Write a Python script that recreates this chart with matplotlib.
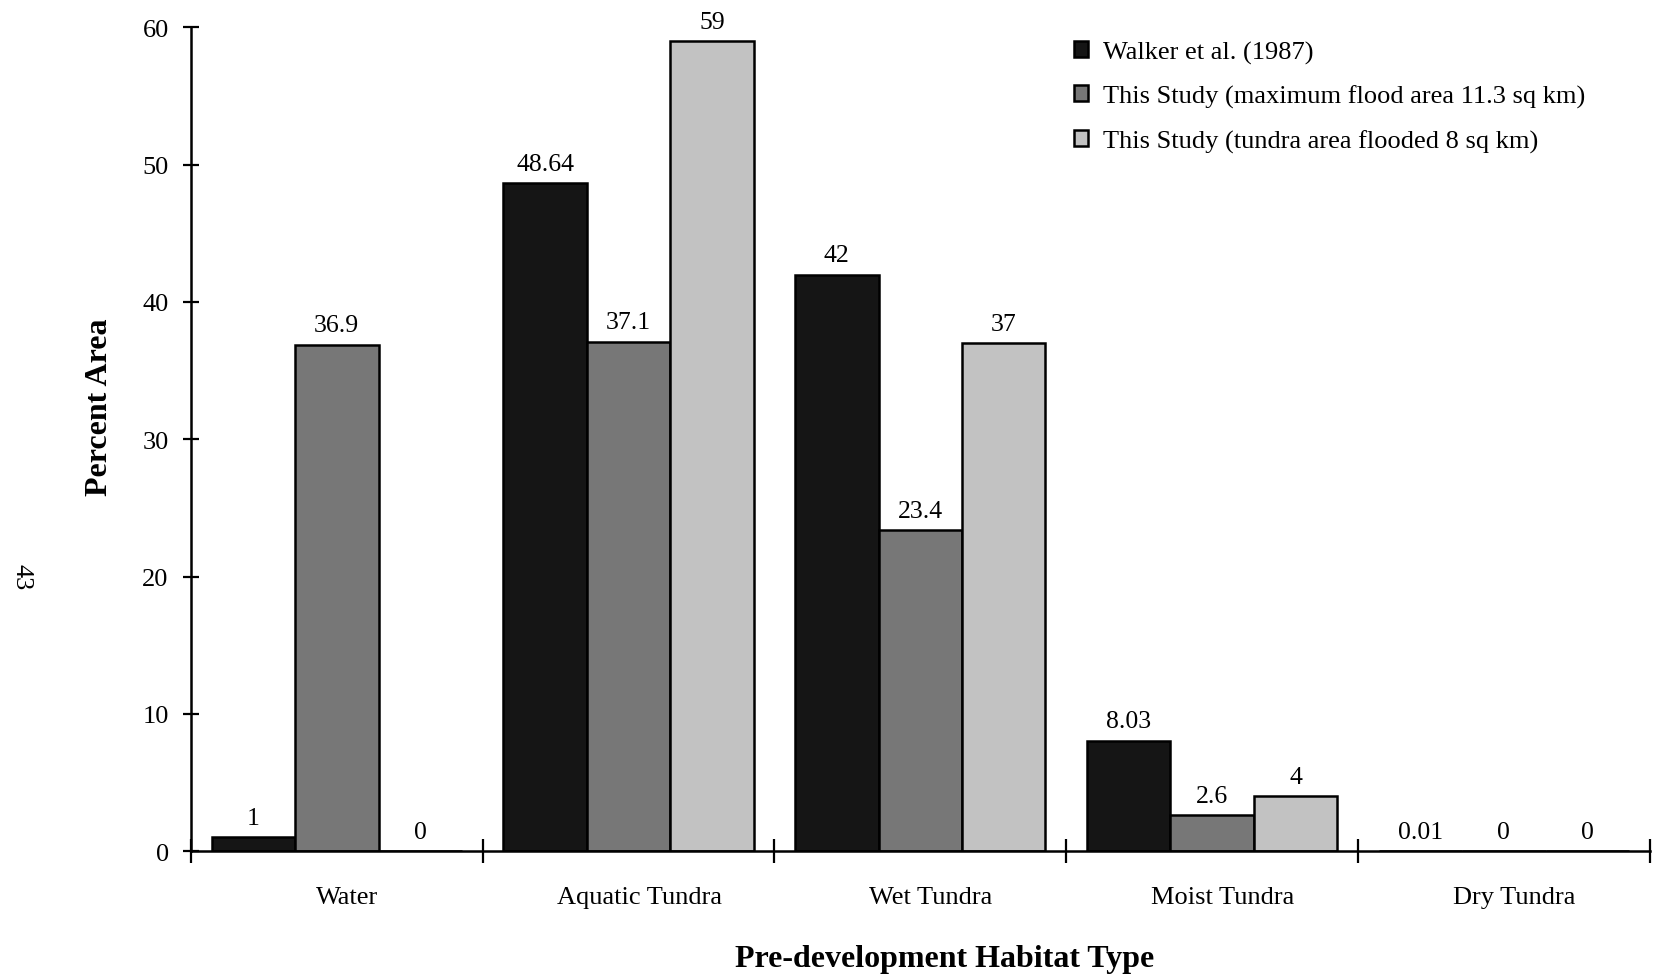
import matplotlib.pyplot as plt
import numpy as np

# habitat categories and percent area per source
habitats = ["Water", "Aquatic Tundra", "Wet Tundra", "Moist Tundra", "Dry Tundra"]
walker = [1, 48.64, 42, 8.03, 0.01]
max_flood = [36.9, 37.1, 23.4, 2.6, 0]
tundra_flooded = [0, 59, 37, 4, 0]

walker_labels = ["1", "48.64", "42", "8.03", "0.01"]
max_flood_labels = ["36.9", "37.1", "23.4", "2.6", "0"]
tundra_labels = ["0", "59", "37", "4", "0"]

series_names = ["Walker et al. (1987)",
                "This Study (maximum flood area 11.3 sq km)",
                "This Study (tundra area flooded 8 sq km)"]

plt.rcParams['font.family'] = ['Liberation Serif', 'DejaVu Serif']

fig = plt.figure(figsize=(16.53, 9.78), dpi=100)
ax = fig.add_axes([0.1155, 0.1288, 0.8825, 0.8421])

x = np.arange(len(habitats))
w = 0.286
colores = ['#151515', '#777777', '#c2c2c2']
datos = [walker, max_flood, tundra_flooded]
etiquetas = [walker_labels, max_flood_labels, tundra_labels]

for i, (vals, labs) in enumerate(zip(datos, etiquetas)):
    pos = x + (i - 1) * w
    ax.bar(pos, vals, width=w, color=colores[i], edgecolor='black',
           linewidth=1.8, label=series_names[i], zorder=2)
    for px, v, t in zip(pos, vals, labs):
        ax.annotate(t, (px, v), xytext=(0, 6), textcoords='offset points',
                    ha='center', va='bottom', fontsize=18.5)

ax.set_xlim(-0.5, 4.5)
ax.set_ylim(0, 60)
ax.set_yticks([0, 10, 20, 30, 40, 50, 60])
# las etiquetas de categoria estan un poco corridas a la derecha en el original
ax.set_xticks(x + 0.036)
ax.set_xticklabels(habitats)
ax.set_xticks(np.arange(-0.5, 5, 1), minor=True)

for lado in ['top', 'right']:
    ax.spines[lado].set_visible(False)
ax.spines['left'].set_linewidth(1.8)
ax.spines['bottom'].set_linewidth(1.8)

ax.tick_params(axis='y', direction='inout', length=12, width=1.6,
               labelsize=19, pad=10)
ax.tick_params(axis='x', which='major', length=0, labelsize=19, pad=25)
ax.tick_params(axis='x', which='minor', direction='inout', length=17, width=1.6)

ax.set_xlabel("Pre-development Habitat Type", fontsize=23, fontweight='bold')
ax.set_ylabel("Percent Area", fontsize=23, fontweight='bold')
ax.xaxis.set_label_coords(0.517, -0.130)
ax.yaxis.set_label_coords(-0.0624, 0.540)
ax.xaxis.label.set_va('center')
ax.yaxis.label.set_va('center')

leg = ax.legend(loc='upper left', bbox_to_anchor=(0.589, 1.013), frameon=False,
                fontsize=19, handlelength=0.55, handleheight=0.55,
                handletextpad=0.55, labelspacing=0.8)

fig.text(0.013, 0.41, "43", rotation=-90, fontsize=19, ha='center', va='center')

plt.savefig("out.png", dpi=100)
